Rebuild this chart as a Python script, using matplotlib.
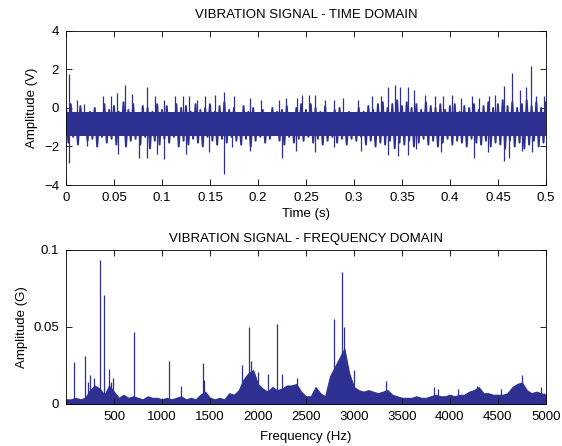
import matplotlib.pyplot as plt
import numpy as np

plt.rcParams['font.family'] = ['Liberation Sans', 'DejaVu Sans']

blue = '#2e3192'

# ---- time domain: band edges every 5 ms (V) ----
t_band = np.linspace(0, 0.5, 101)
band_hi = [0.1, 0.2, -0.3, 0.1, -0.4, -0.2, 0.0, -0.3, 0.2, -0.1,
           0.1, -0.2, 0.3, -0.1, 0.2, -0.3, 0.1, 0.0, -0.2, 0.2,
           -0.1, 0.1, -0.3, 0.2, 0.0, 0.1, -0.2, 0.2, -0.1, 0.0,
           0.2, -0.2, 0.1, 0.3, -0.1, 0.0, -0.3, 0.1, -0.2, 0.0,
           -0.3, -0.1, -0.4, 0.0, -0.2, -0.1, 0.1, -0.3, 0.0, 0.2,
           -0.1, 0.2, 0.0, -0.2, 0.1, -0.3, -0.1, 0.0, -0.4, -0.2,
           -0.3, 0.0, -0.2, 0.1, -0.1, 0.2, 0.3, 0.0, 0.2, 0.4,
           0.1, 0.3, 0.0, 0.2, -0.1, 0.3, 0.1, 0.0, 0.2, -0.1,
           0.1, 0.2, -0.2, 0.1, 0.0, 0.2, -0.1, 0.1, 0.3, 0.0,
           0.2, 0.4, 0.1, 0.3, 0.0, 0.2, 0.4, 0.1, 0.3, 0.0, 0.3]
band_lo = [-1.8, -1.5, -1.9, -1.4, -1.7, -1.6, -2.0, -1.5, -1.8, -1.6,
           -1.9, -1.4, -2.0, -1.7, -1.6, -1.9, -1.5, -2.1, -1.7, -1.9,
           -1.6, -1.8, -1.5, -2.0, -1.7, -1.9, -1.6, -1.8, -2.0, -1.5,
           -1.7, -1.9, -1.6, -1.8, -1.5, -1.7, -1.9, -1.6, -2.0, -1.7,
           -1.5, -1.8, -1.6, -1.4, -1.7, -1.9, -1.5, -1.8, -1.6, -1.7,
           -1.5, -1.8, -1.6, -1.9, -1.7, -1.5, -1.8, -1.6, -1.9, -1.6,
           -1.7, -1.5, -1.9, -1.7, -2.0, -1.8, -1.9, -1.7, -2.1, -1.8,
           -1.9, -1.7, -2.0, -1.8, -1.6, -1.9, -1.7, -2.0, -1.8, -1.6,
           -1.9, -1.7, -1.8, -2.0, -1.6, -1.8, -1.9, -1.7, -2.0, -1.8,
           -1.9, -2.1, -1.7, -2.0, -1.8, -2.1, -1.9, -1.7, -2.0, -1.8, -1.9]
core_hi = -0.2
core_lo = -1.45
mean_level = -0.8

up_t = [0.003, 0.011, 0.019, 0.039, 0.047, 0.053, 0.061, 0.069, 0.084, 0.093,
        0.102, 0.114, 0.122, 0.128, 0.136, 0.145, 0.155, 0.165, 0.175, 0.192,
        0.203, 0.222, 0.229, 0.241, 0.246, 0.253, 0.259, 0.270, 0.279, 0.289,
        0.304, 0.319, 0.328, 0.335, 0.343, 0.348, 0.356, 0.363, 0.374, 0.384,
        0.393, 0.402, 0.412, 0.423, 0.430, 0.441, 0.447, 0.456, 0.465, 0.473,
        0.479, 0.484, 0.490, 0.498]
up_v = [1.75, 0.4, 0.2, 0.6, 0.6, 0.8, 1.2, 0.75, 1.1, 0.6,
        0.4, 0.6, 0.6, 0.6, 0.4, 0.6, 0.7, 0.85, 0.6, 0.5,
        0.4, 0.4, 0.5, 0.5, 0.7, 0.7, 0.7, 0.4, 0.4, 0.5,
        0.4, 0.6, 0.6, 1.1, 1.2, 1.1, 1.1, 0.95, 0.7, 0.6,
        0.6, 0.7, 0.5, 0.6, 0.5, 0.6, 0.7, 1.15, 1.8, 0.95,
        1.1, 2.2, 0.6, 0.6]
down_t = [0.003, 0.022, 0.054, 0.076, 0.084, 0.095, 0.102, 0.125, 0.149, 0.165,
          0.173, 0.192, 0.225, 0.240, 0.259, 0.279, 0.307, 0.335, 0.346, 0.356,
          0.365, 0.391, 0.425, 0.440, 0.456, 0.462, 0.475, 0.486]
down_v = [-2.85, -1.97, -2.4, -2.6, -2.6, -2.4, -2.65, -2.4, -2.3, -3.45,
          -2.05, -2.25, -2.6, -2.25, -2.3, -2.05, -2.25, -2.45, -2.5, -2.45,
          -2.15, -2.3, -2.6, -2.3, -2.75, -2.6, -2.25, -2.3]

# ---- frequency domain: noise envelope every 50 Hz (G) ----
f_env = np.linspace(0, 5000, 101)
env = [0.003, 0.003, 0.004, 0.003, 0.004, 0.009, 0.012, 0.010, 0.006, 0.012, 0.008,
       0.004, 0.006, 0.004, 0.005, 0.004, 0.003, 0.005, 0.004, 0.004, 0.003,
       0.004, 0.003, 0.004, 0.005, 0.003, 0.004, 0.003, 0.006, 0.008, 0.004,
       0.003, 0.004, 0.003, 0.007, 0.006, 0.009, 0.016, 0.020, 0.022, 0.013,
       0.010, 0.008, 0.011, 0.009, 0.010, 0.012, 0.012, 0.013, 0.008, 0.005,
       0.005, 0.011, 0.007, 0.005, 0.018, 0.024, 0.030, 0.036, 0.020, 0.011,
       0.009, 0.008, 0.009, 0.008, 0.007, 0.008, 0.009, 0.006, 0.005, 0.004,
       0.004, 0.004, 0.005, 0.004, 0.004, 0.005, 0.006, 0.005, 0.005, 0.006,
       0.005, 0.006, 0.006, 0.008, 0.009, 0.011, 0.007, 0.007, 0.006, 0.006,
       0.006, 0.007, 0.011, 0.013, 0.014, 0.009, 0.007, 0.008, 0.007, 0.006]
peak_f = [86, 194, 227, 253, 294, 354, 391, 447, 466, 495,
          708, 1069, 1200, 1427, 1442, 1833, 1908, 1926, 2000, 2105,
          2198, 2254, 2403, 2794, 2876, 2899, 2999, 3335, 3838, 3875,
          4080, 4285, 4527, 4750, 4944, 4980]
peak_a = [0.027, 0.031, 0.014, 0.019, 0.017, 0.0935, 0.071, 0.023, 0.0145, 0.017,
          0.0465, 0.028, 0.0115, 0.0265, 0.0155, 0.025, 0.050, 0.028, 0.021, 0.0195,
          0.052, 0.0195, 0.017, 0.055, 0.086, 0.050, 0.022, 0.015, 0.011, 0.010,
          0.010, 0.012, 0.010, 0.019, 0.011, 0.007]

fig = plt.figure(figsize=(5.62, 4.46), dpi=100)
ax1 = fig.add_axes([0.1174, 0.5852, 0.854, 0.3453])
ax2 = fig.add_axes([0.1174, 0.0942, 0.854, 0.3453])

# time domain: core band + zigzag between edge values + spikes
half = (t_band[1] - t_band[0]) / 2
zz_t = np.ravel(np.column_stack([t_band, t_band + half]))[:-1]
zz_v = np.ravel(np.column_stack([band_hi, band_lo]))[:-1]
ax1.fill_between([0, 0.5], core_lo, core_hi, color=blue, lw=0)
ax1.plot(zz_t, zz_v, color=blue, lw=1.4)
ax1.vlines(up_t, mean_level, up_v, color=blue, lw=0.9)
ax1.vlines(down_t, mean_level, down_v, color=blue, lw=0.9)
ax1.set_xlim(0, 0.5)
ax1.set_ylim(-4, 4)
ax1.set_xticks(np.arange(0, 0.501, 0.05))
ax1.set_xticklabels(['0', '0.05', '0.1', '0.15', '0.2', '0.25', '0.3', '0.35', '0.4', '0.45', '0.5'])
ax1.set_yticks([-4, -2, 0, 2, 4])
ax1.set_title('VIBRATION SIGNAL - TIME DOMAIN', fontsize=9.5, pad=9)
ax1.set_xlabel('Time (s)', fontsize=9.5, labelpad=3)
ax1.set_ylabel('Amplitude (V)', fontsize=9.5, labelpad=4)

# frequency domain: noise envelope + discrete peaks
ax2.fill_between(f_env, 0, env, color=blue, lw=0.8)
ax2.vlines(peak_f, 0, peak_a, color=blue, lw=0.9)
ax2.set_xlim(0, 5000)
ax2.set_ylim(0, 0.1)
ax2.set_xticks(np.arange(500, 5001, 500))
ax2.set_yticks([0, 0.05, 0.1])
ax2.set_yticklabels(['0', '0.05', '0.1'])
ax2.set_title('VIBRATION SIGNAL - FREQUENCY DOMAIN', fontsize=9.5, pad=6)
ax2.set_xlabel('Frequency (Hz)', fontsize=9.5, labelpad=6)
ax2.set_ylabel('Amplitude (G)', fontsize=9.5, labelpad=4)

for ax in (ax1, ax2):
    ax.tick_params(direction='in', top=True, right=True, labelsize=9.5, length=4, width=0.6, pad=5)
    for s in ax.spines.values():
        s.set_linewidth(0.6)

fig.savefig('out.png', dpi=100)
